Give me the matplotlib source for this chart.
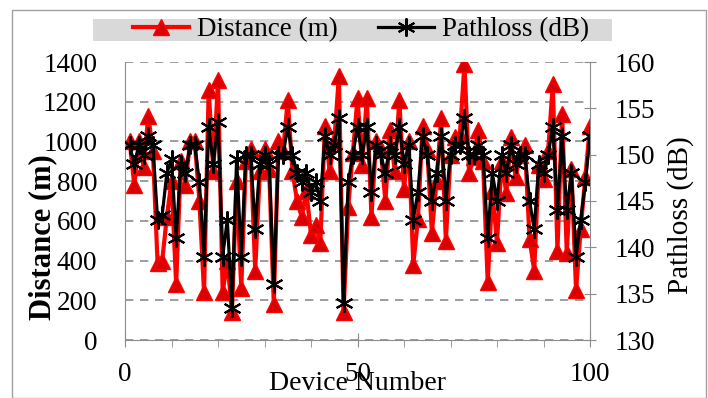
import matplotlib.pyplot as plt
from matplotlib.patches import Rectangle

# Номера устройств
devices = list(range(1, 101))

# Расстояние (m)
distance = [1000, 780, 1000, 870, 1130, 950, 390, 400, 620, 800,
            280, 900, 780, 1000, 1000, 700, 240, 1260, 850, 1310,
            240, 400, 140, 800, 260, 900, 960, 350, 850, 960,
            860, 180, 1000, 950, 1210, 850, 700, 620, 750, 530,
            580, 490, 1080, 850, 1000, 1330, 140, 670, 940, 1220,
            880, 1220, 620, 1000, 960, 700, 1060, 850, 1210, 760,
            1000, 380, 610, 1080, 960, 540, 800, 1120, 500, 930,
            1020, 1030, 1390, 840, 920, 1060, 900, 290, 750, 490,
            900, 740, 1020, 820, 930, 980, 510, 350, 880, 810,
            950, 1290, 450, 1140, 440, 860, 250, 560, 820, 1080]

# Потери на трассе (dB)
pathloss = [151, 149, 151, 150, 152, 151, 143, 143.5, 148, 149.5,
            141, 149, 148, 151, 151, 147, 139, 153, 149, 153.5,
            139, 143, 133.5, 149.5, 139, 150, 150, 142, 149, 150,
            149, 136, 150, 150, 153, 150, 148, 147, 148, 146,
            147, 145, 152, 150, 151, 154, 134, 147, 150, 153,
            150, 153, 146, 151, 150, 148, 151, 150, 153, 149,
            151, 143, 146, 152, 150, 145, 148, 152, 145, 150,
            151, 151, 154, 150, 150, 151, 150, 141, 148, 145,
            150, 148, 151, 149, 150, 150, 145, 142, 149, 148,
            150, 153, 144, 152, 144, 148, 139, 143, 147, 152]

plt.rcParams['font.family'] = ['Liberation Serif', 'DejaVu Serif']

fig = plt.figure(figsize=(7.08, 3.98), dpi=100)
ax = fig.add_axes([125 / 708, 1 - 340 / 398, 465 / 708, 278 / 398])
ax2 = ax.twinx()

gray = '#8c8c8c'

l1, = ax.plot(devices, distance, color='red', lw=3, marker='^', markersize=12,
              markerfacecolor='#d80000', markeredgecolor='#ff0000', label='Distance (m)')
l2, = ax2.plot(devices, pathloss, color='black', lw=2.3, marker=(6, 2, 0), markersize=13,
               markeredgewidth=1.5, label='Pathloss (dB)')

ax.set_xlim(0, 100)
ax.set_ylim(0, 1400)
ax2.set_ylim(130, 160)
ax.set_yticks(range(0, 1401, 200))
ax2.set_yticks(range(130, 161, 5))
ax.set_xticks([0, 50, 100])
ax.set_xticks(range(10, 100, 10), minor=True)

ax.grid(axis='y', color=gray, linestyle='--', lw=1.2, dashes=(5, 4))
ax.set_axisbelow(True)

for a in (ax, ax2):
    for s in a.spines.values():
        s.set_visible(False)
ax.spines['left'].set_visible(True)
ax.spines['left'].set_color(gray)
ax.spines['bottom'].set_visible(True)
ax.spines['bottom'].set_color(gray)
ax2.spines['right'].set_visible(True)
ax2.spines['right'].set_color(gray)

ax.tick_params(axis='y', length=0, labelsize=19.5, pad=20)
ax.tick_params(axis='x', which='major', direction='inout', length=10, color=gray, labelsize=19.5, pad=11)
ax.tick_params(axis='x', which='minor', direction='out', length=5, color=gray)
ax2.tick_params(axis='y', direction='inout', length=8, color=gray, labelsize=19.5, pad=14)

ax.set_ylabel('Distance (m)', fontsize=22, fontweight='bold')
ax.yaxis.set_label_coords(-0.146, 0.37)
ax2.set_ylabel('Pathloss (dB)', fontsize=21)
ax2.yaxis.set_label_coords(1.166, 0.45)
ax.set_xlabel('Device Number', fontsize=20)
ax.xaxis.set_label_coords(0.5, -0.112)

# серый фон легенды
fig.patches.append(Rectangle((93 / 708, 1 - 41 / 398), 519 / 708, 22 / 398, transform=fig.transFigure,
                             facecolor='#d9d9d9', edgecolor='none'))
fig.legend(handles=[l1, l2], loc='center', bbox_to_anchor=(361 / 708, 1 - 30 / 398),
           ncol=2, fontsize=19.5, frameon=False, borderpad=0,
           handlelength=2.05, columnspacing=1.5, handletextpad=0.3)

fig.patches.append(Rectangle((12 / 708, 0), 694 / 708, 1 - 10 / 398, transform=fig.transFigure,
                             fill=False, edgecolor='#a0a0a0', lw=1))

fig.savefig('out.png', dpi=100)
